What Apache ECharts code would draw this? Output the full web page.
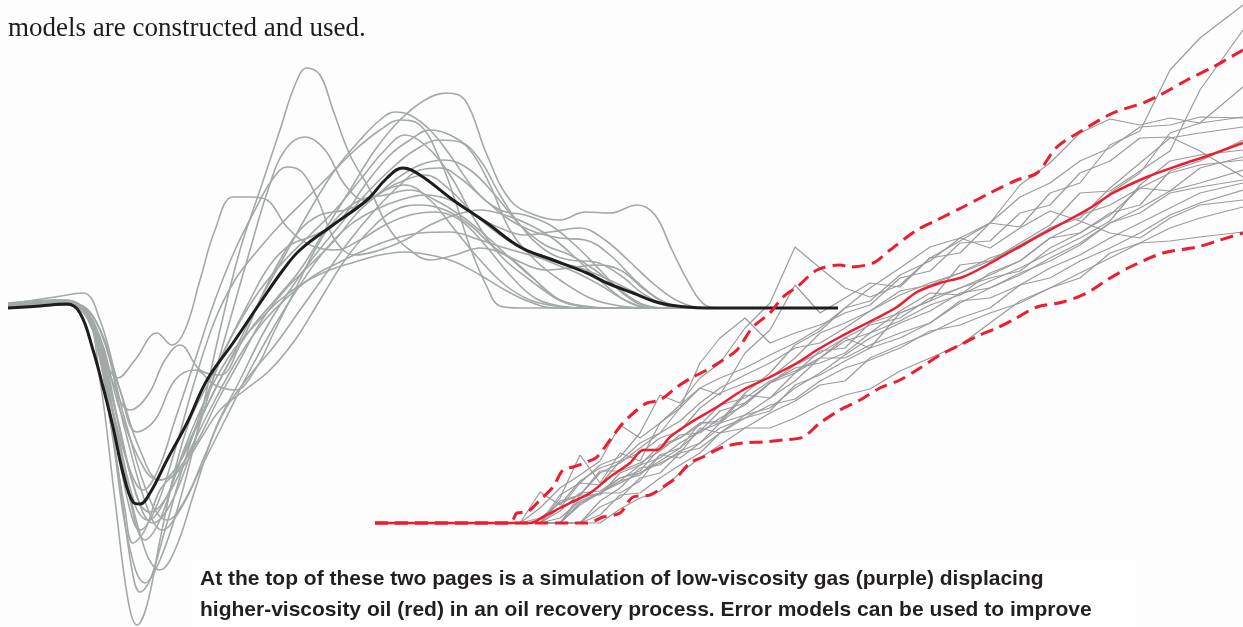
<!DOCTYPE html>
<html>
<head>
<meta charset="utf-8">
<script src="https://cdn.jsdelivr.net/npm/echarts@6/dist/echarts.min.js"></script>
<style>
html,body{margin:0;padding:0;background:#fdfdfd;}
#chart{width:1243px;height:627px;}
</style>
</head>
<body>
<div id="chart"></div>
<script>
// ---------- Left panel: wavelet realisations (time, amplitude) ----------
const leftMean = [[8,0],[40,2],[67,4],[80,-5],[93,-42],[103,-79],[113,-119],[123,-165],[133,-194],[140,-196],[150,-185],[167,-152],[187,-115],[207,-72],[233,-35],[260,5],[283,38],[300,58],[333,83],[367,108],[387,130],[403,140],[420,133],[453,108],[487,85],[520,61],[553,48],[587,35],[607,25],[633,15],[660,5],[687,1],[707,0],[838,0]];

const leftRun01 = [[8,3],[60,6],[85,-2],[100,-72],[115,-192],[128,-292],[137,-317],[147,-297],[160,-232],[175,-162],[190,-112],[210,-72],[235,-22],[260,18],[285,48],[310,73],[335,98],[360,128],[385,158],[405,173],[425,163],[450,133],[475,88],[500,53],[530,28],[560,8],[585,2],[610,0],[710,0]];
const leftRun02 = [[8,5],[55,8],[80,3],[100,-52],[118,-162],[132,-262],[140,-284],[150,-272],[165,-222],[185,-152],[205,-92],[225,-42],[250,8],[270,43],[290,63],[315,73],[340,88],[365,123],[390,153],[410,168],[430,178],[450,173],[470,158],[490,123],[510,78],[535,48],[560,28],[590,10],[620,2],[650,0],[710,0]];
const leftRun03 = [[8,2],[60,4],[90,-12],[110,-112],[128,-232],[145,-275],[160,-252],[180,-192],[200,-112],[220,-22],[240,58],[260,118],[280,178],[295,223],[307,240],[320,233],[333,198],[350,153],[370,118],[390,78],[410,58],[430,48],[455,53],[480,60],[505,53],[530,33],[555,10],[580,2],[600,0],[710,0]];
const leftRun04 = [[8,2],[70,3],[95,-22],[120,-142],[145,-242],[160,-262],[175,-242],[195,-182],[215,-122],[240,-72],[265,-22],[290,18],[315,53],[340,83],[365,113],[390,138],[415,158],[440,168],[460,166],[480,148],[500,113],[520,83],[545,58],[570,48],[595,46],[620,33],[645,13],[670,2],[690,0],[710,0]];
const leftRun05 = [[8,3],[60,6],[85,-2],[100,-37],[118,-70],[135,-52],[157,-25],[172,-37],[185,-22],[200,28],[215,78],[233,111],[250,111],[267,108],[287,81],[310,63],[335,58],[360,68],[385,83],[410,93],[435,96],[460,88],[485,63],[510,33],[535,10],[560,2],[585,0],[710,0]];
const leftRun06 = [[8,3],[60,5],[88,-7],[110,-67],[130,-102],[148,-87],[165,-52],[180,-37],[200,-62],[220,-67],[240,-37],[260,8],[280,48],[300,78],[320,93],[345,98],[370,108],[395,128],[420,143],[445,148],[470,138],[495,113],[520,83],[545,63],[570,53],[595,38],[620,18],[645,3],[670,0],[710,0]];
const leftRun07 = [[8,3],[65,8],[90,-10],[110,-112],[125,-202],[133,-235],[145,-222],[160,-182],[178,-162],[198,-132],[218,-92],[240,-52],[262,-12],[285,18],[310,43],[335,68],[360,98],[385,118],[405,128],[425,133],[450,118],[475,93],[500,73],[525,58],[550,46],[575,36],[600,23],[625,8],[650,0],[710,0]];
const leftRun08 = [[8,2],[70,4],[95,-22],[115,-102],[135,-182],[153,-215],[170,-197],[190,-147],[210,-82],[230,-12],[250,58],[268,118],[285,158],[305,171],[325,158],[345,123],[365,108],[385,118],[405,123],[430,108],[455,78],[480,48],[505,23],[530,8],[555,2],[580,0],[710,0]];
const leftRun09 = [[8,2],[75,4],[100,-22],[125,-112],[150,-192],[167,-212],[185,-192],[205,-147],[225,-102],[250,-67],[275,-37],[300,-2],[325,33],[350,68],[375,98],[400,123],[420,138],[440,140],[460,130],[485,108],[510,88],[535,76],[560,70],[585,68],[610,53],[635,28],[660,8],[685,1],[705,0],[710,0]];
const leftRun10 = [[8,3],[60,6],[88,-12],[110,-92],[130,-162],[143,-182],[158,-162],[175,-112],[195,-52],[215,8],[235,58],[255,98],[272,128],[287,141],[302,136],[318,108],[335,68],[355,53],[380,58],[405,68],[430,83],[455,93],[480,98],[505,93],[530,83],[555,68],[580,46],[605,23],[630,5],[655,0],[710,0]];
const leftRun11 = [[8,3],[70,4],[95,-17],[120,-102],[145,-162],[160,-172],[178,-157],[200,-112],[225,-62],[250,-22],[275,8],[300,38],[325,78],[350,118],[375,158],[400,188],[425,208],[447,215],[465,208],[487,153],[510,108],[535,93],[560,88],[585,96],[610,95],[637,103],[655,93],[672,58],[690,23],[705,3],[720,0]];
const leftRun12 = [[8,2],[70,3],[95,-12],[120,-82],[140,-142],[160,-172],[180,-162],[200,-132],[220,-102],[245,-82],[270,-62],[295,-32],[320,8],[345,48],[370,78],[395,98],[420,103],[445,98],[470,83],[495,60],[520,46],[545,38],[570,40],[595,43],[620,38],[645,18],[670,3],[690,0],[710,0]];
const leftRun13 = [[8,3],[65,4],[90,-12],[112,-112],[130,-202],[140,-222],[155,-202],[175,-142],[195,-72],[215,-12],[235,28],[258,58],[280,83],[305,108],[330,133],[355,158],[380,178],[400,188],[420,183],[440,148],[455,108],[470,61],[487,21],[500,2],[520,0],[710,0]];
const leftRun14 = [[8,2],[70,3],[92,-14],[115,-112],[135,-197],[148,-212],[165,-192],[185,-142],[210,-92],[235,-42],[260,8],[285,53],[310,98],[335,138],[360,168],[380,188],[395,196],[410,193],[430,178],[450,153],[475,118],[500,98],[525,93],[550,83],[575,63],[600,38],[625,13],[650,1],[670,0],[710,0]];
const leftRun15 = [[8,4],[55,11],[83,15],[100,-12],[120,-82],[137,-124],[155,-112],[175,-72],[195,-62],[215,-77],[235,-82],[255,-62],[275,-22],[295,18],[315,58],[335,88],[360,108],[385,113],[410,118],[435,108],[460,93],[485,73],[510,50],[535,28],[560,8],[585,1],[605,0],[710,0]];
const leftRun16 = [[8,2],[75,3],[100,-22],[125,-122],[148,-202],[162,-222],[180,-202],[200,-162],[225,-112],[250,-62],[275,-17],[300,23],[325,58],[350,83],[375,98],[400,108],[425,113],[450,108],[475,93],[500,80],[525,73],[550,76],[580,80],[605,68],[630,46],[655,23],[680,6],[705,0],[710,0]];
const leftRun17 = [[8,3],[70,4],[95,-17],[118,-112],[138,-192],[150,-204],[168,-187],[190,-142],[215,-92],[240,-47],[265,-12],[290,13],[315,33],[340,46],[365,58],[390,68],[420,75],[450,76],[480,68],[505,60],[530,53],[555,46],[580,40],[605,30],[630,18],[655,6],[680,0],[710,0]];
const leftRun18 = [[8,2],[65,3],[90,-12],[112,-102],[130,-192],[145,-232],[160,-212],[180,-152],[205,-92],[230,-47],[255,-17],[280,8],[305,26],[330,38],[355,46],[380,53],[405,56],[430,53],[455,46],[480,33],[505,18],[530,6],[555,0],[710,0]];

// ---------- Right panel: cumulative realisations (time, value) ----------
const rightT = [520,540,560,580,600,620,640,660,680,700,720,745,770,795,820,845,870,900,930,960,990,1020,1050,1080,1110,1140,1170,1200,1243];
const rightRun01 = [0,0,25,68,40,70,62,100,118,135,128,170,193,238,210,225,240,236,265,270,300,296,330,340,378,392,453,485,518];
const rightRun02 = [0,0,0,25,30,42,58,78,85,100,100,128,125,150,165,185,175,210,222,258,262,280,298,330,332,352,372,433,493];
const rightRun03 = [0,5,20,28,52,52,60,72,88,90,105,118,140,155,160,170,190,212,230,228,250,262,285,300,330,350,390,400,436];
const rightRun04 = [0,0,0,20,30,42,48,68,75,100,102,130,150,178,192,215,222,248,262,285,300,338,360,390,404,398,405,400,406];
const rightRun05 = [0,0,15,40,38,62,70,85,92,115,130,140,145,165,190,200,212,232,238,250,265,275,295,305,335,360,385,390,396];
const rightRun06 = [0,0,0,20,30,40,50,62,75,92,100,120,140,150,172,175,200,210,222,235,245,252,275,290,310,318,352,362,383];
const rightRun07 = [0,31,18,42,55,62,80,90,102,120,135,148,160,175,180,195,212,228,240,250,262,278,295,308,318,335,332,355,366];
const rightRun08 = [0,0,0,0,22,35,55,58,72,80,100,108,125,142,165,165,178,190,200,220,235,248,265,280,300,315,332,340,353];
const rightRun09 = [0,0,22,28,50,60,75,90,115,160,185,205,180,190,198,210,218,245,252,280,282,310,318,350,362,385,386,372,346];
const rightRun10 = [0,0,0,18,30,30,42,68,65,80,95,105,112,138,148,162,175,185,200,222,225,238,255,268,285,300,315,330,340];
const rightRun11 = [0,0,0,0,8,28,30,45,58,70,90,95,110,122,138,142,165,178,190,205,215,238,245,262,275,290,308,320,333];
const rightRun12 = [0,0,5,22,30,45,50,60,70,95,90,105,118,124,142,155,163,175,192,198,210,220,235,250,265,280,295,305,316];
const rightRun13 = [0,0,0,0,0,14,25,32,50,65,78,95,95,105,118,128,134,152,165,178,200,222,235,245,270,280,282,286,291];
const rightRun14 = [0,0,28,40,58,66,90,128,120,145,160,195,220,276,255,235,226,238,265,282,300,326,340,362,375,396,398,406,405];
const rightRun15 = [0,15,35,48,62,98,85,100,115,135,145,155,168,180,195,215,235,255,276,285,275,295,312,302,290,285,305,318,323];
const rightRun16 = [0,0,0,28,28,50,58,65,80,92,112,120,140,158,170,185,198,205,225,235,248,262,285,290,308,335,350,358,363];
const rightRun17 = [0,0,0,0,16,25,45,50,70,75,90,108,115,135,150,168,185,200,212,230,235,250,262,278,300,310,330,336,343];
const rightRun18 = [0,0,12,30,32,45,52,75,85,98,118,125,142,152,165,182,190,202,218,228,242,255,270,285,302,338,362,368,373];

const rightMean = [[375,0],[510,0],[530,0],[545,7],[560,15],[570,20],[590,30],[610,46],[630,60],[643,73],[657,73],[670,86],[690,100],[717,116],[743,133],[770,146],[797,160],[817,173],[840,186],[877,205],[897,216],[917,231],[940,240],[963,246],[987,258],[1010,271],[1037,286],[1063,300],[1090,315],[1113,330],[1147,346],[1180,358],[1210,368],[1243,380]];
const rightUpper = [[375,0],[510,0],[517,10],[527,11],[540,23],[553,36],[563,53],[573,56],[587,61],[597,66],[610,83],[623,100],[637,113],[647,120],[660,123],[677,136],[693,146],[707,153],[723,163],[737,173],[753,196],[770,210],[783,226],[797,236],[817,253],[840,258],[850,256],[873,260],[890,273],[917,293],[937,303],[963,316],[990,330],[1017,343],[1037,350],[1057,376],[1083,393],[1113,410],[1143,420],[1160,428],[1187,443],[1213,456],[1243,473]];
const rightLower = [[375,0],[587,0],[603,6],[620,10],[633,26],[650,28],[663,36],[677,46],[690,60],[703,66],[723,76],[743,80],[763,81],[783,83],[803,86],[820,100],[840,113],[860,123],[880,135],[900,143],[920,155],[940,168],[960,178],[980,188],[997,195],[1013,203],[1037,216],[1063,221],[1087,230],[1107,243],[1130,256],[1163,270],[1197,276],[1220,283],[1243,290]];

// ---------- Text ----------
const pageLine = 'models are constructed and used.';
const captionLines = [
  'At the top of these two pages is a simulation of low-viscosity gas (purple) displacing',
  'higher-viscosity oil (red) in an oil recovery process. Error models can be used to improve'
];

const leftRuns = [leftRun01,leftRun02,leftRun03,leftRun04,leftRun05,leftRun06,leftRun07,leftRun08,leftRun09,leftRun10,leftRun11,leftRun12,leftRun13,leftRun14,leftRun15,leftRun16,leftRun17,leftRun18];
const rightRuns = [rightRun01,rightRun02,rightRun03,rightRun04,rightRun05,rightRun06,rightRun07,rightRun08,rightRun09,rightRun10,rightRun11,rightRun12,rightRun13,rightRun14,rightRun15,rightRun16,rightRun17,rightRun18];

const series = [];
leftRuns.forEach(function (run) {
  series.push({type:'line', xAxisIndex:0, yAxisIndex:0, data:run, smooth:0.4, symbol:'none', silent:true,
    lineStyle:{color:'#a2a9a6', width:1.6}, z:2});
});
series.push({type:'line', xAxisIndex:0, yAxisIndex:0, data:leftMean, smooth:0.4, symbol:'none', silent:true,
  lineStyle:{color:'#1e1c1c', width:3}, z:4});
rightRuns.forEach(function (run) {
  series.push({type:'line', xAxisIndex:0, yAxisIndex:1, data:rightT.map(function (t, i) { return [t, run[i]]; }),
    symbol:'none', silent:true, lineStyle:{color:'#9a9b9d', width:1.2}, z:3});
});
series.push({type:'line', xAxisIndex:0, yAxisIndex:1, data:rightUpper, smooth:0.3, symbol:'none', silent:true,
  lineStyle:{color:'#ee1c2e', width:3, type:[13,7]}, z:5});
series.push({type:'line', xAxisIndex:0, yAxisIndex:1, data:rightLower, smooth:0.3, symbol:'none', silent:true,
  lineStyle:{color:'#ee1c2e', width:3, type:[13,7]}, z:5});
series.push({type:'line', xAxisIndex:0, yAxisIndex:1, data:rightMean, smooth:0.3, symbol:'none', silent:true,
  lineStyle:{color:'#ee1c2e', width:2.5}, z:6});

const chart = echarts.init(document.getElementById('chart'), null, {renderer:'canvas'});
chart.setOption({
  backgroundColor:'#fdfdfd',
  animation:false,
  grid:{left:0, right:0, top:0, bottom:0},
  xAxis:{type:'value', min:0, max:1243, show:false},
  yAxis:[
    {type:'value', min:-319, max:308, show:false},
    {type:'value', min:-104, max:523, show:false}
  ],
  series: series,
  graphic:[
    {type:'rect', z:100, shape:{x:193, y:561, width:942, height:70}, style:{fill:'#ffffff'}},
    {type:'text', z:101, x:8, y:29, style:{text:pageLine, font:'27px "Liberation Serif", serif', fill:'#1f1c1d', verticalAlign:'middle'}},
    {type:'text', z:101, x:200, y:579, style:{text:captionLines[0], font:'bold 21px "Liberation Sans", Arial, sans-serif', fill:'#231f20', verticalAlign:'middle'}},
    {type:'text', z:101, x:200, y:610, style:{text:captionLines[1], font:'bold 21px "Liberation Sans", Arial, sans-serif', fill:'#231f20', verticalAlign:'middle'}}
  ]
});
</script>
</body>
</html>
